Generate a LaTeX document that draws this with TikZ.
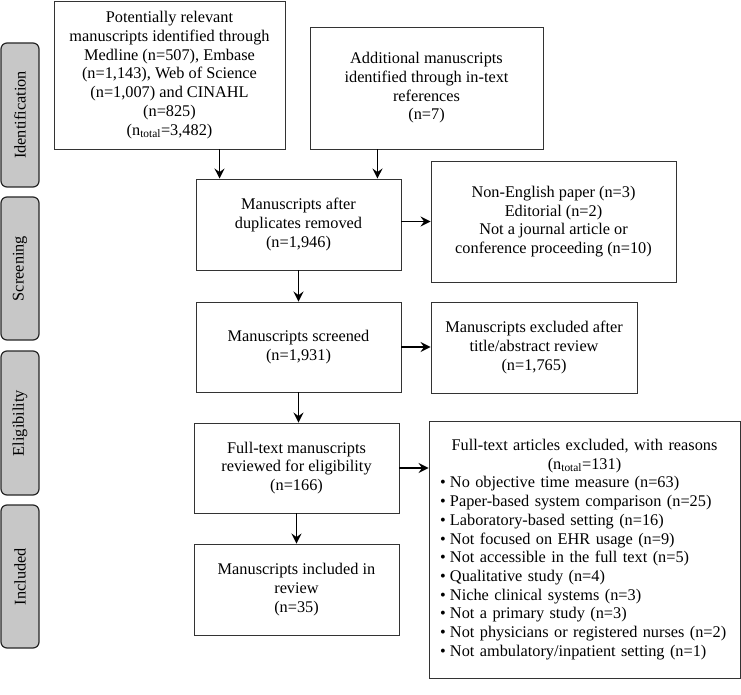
\documentclass[tikz,border=0pt]{standalone}
\usepackage{fontspec}
\setmainfont{Liberation Serif}
\usetikzlibrary{arrows.meta, positioning}

\begin{document}
\begin{tikzpicture}[x=1pt, y=-1pt,
  every node/.style={font=\fontsize{16.3}{18.7}\selectfont},
  box/.style={draw=black!80, line width=0.9pt, align=center, inner sep=2pt},
  phase/.style={draw=black!85, fill=black!22, line width=1.2pt, rounded corners=6pt,
    rotate=90, minimum width=144pt, minimum height=38pt},
  arr/.style={line width=1.6pt, -{Stealth[length=10pt, width=10pt, inset=3.5pt]}}]
\useasboundingbox (0,0) rectangle (741,695);
%phase labels
\node[phase] (idph) at (20,115) {Identification};
\node[phase, minimum width=143pt] (scrph) at (20,268.5) {Screening};
\node[phase] (eliph) at (20,423) {Eligibility};
\node[phase, minimum width=143pt] (incph) at (20,576.5) {Included};
%top row
\node[box, minimum width=231pt, minimum height=148pt] (search) at (169.5,75)
  {Potentially relevant\\manuscripts identified through\\Medline (n=507), Embase\\(n=1,143), Web of Science\\(n=1,007) and CINAHL\\(n=825)\\(n\textsubscript{total}=3,482)};
\node[box, minimum width=233pt, minimum height=122pt] (extra) at (426.5,88)
  {Additional manuscripts\\identified through in-text\\references\\(n=7)};
%middle column
\node[box, minimum width=205pt, minimum height=91pt] (dup) at (298.5,224.5)
  {Manuscripts after\\duplicates removed\\(n=1,946)};
\node[box, minimum width=205pt, minimum height=90pt] (screened) at (298.5,347)
  {Manuscripts screened\\(n=1,931)};
\node[box, minimum width=205pt, minimum height=90pt] (fulltext) at (296.5,468)
  {Full-text manuscripts\\reviewed for eligibility\\(n=166)};
\node[box, minimum width=205pt, minimum height=91pt] (included) at (296.5,589.5)
  {Manuscripts included in\\review\\(n=35)};
%right column
\node[box, minimum width=245pt, minimum height=121pt] (exnonen) at (553.5,221.5)
  {Non-English paper (n=3)\\Editorial (n=2)\\Not a journal article or\\conference proceeding (n=10)};
\node[box, minimum width=206pt, minimum height=91pt] (exabstract) at (534,347.5)
  {Manuscripts excluded after\\title/abstract review\\(n=1,765)};
\node[box, align=left, inner xsep=11pt, text width=289pt, minimum height=257pt] (exfull) at (584.5,549.5)
  {{\centering Full-text articles excluded, with reasons\\(n\textsubscript{total}=131)\par}
  \makebox[10pt][l]{\textbullet}No objective time measure (n=63)\\
  \makebox[10pt][l]{\textbullet}Paper-based system comparison (n=25)\\
  \makebox[10pt][l]{\textbullet}Laboratory-based setting (n=16)\\
  \makebox[10pt][l]{\textbullet}Not focused on EHR usage (n=9)\\
  \makebox[10pt][l]{\textbullet}Not accessible in the full text (n=5)\\
  \makebox[10pt][l]{\textbullet}Qualitative study (n=4)\\
  \makebox[10pt][l]{\textbullet}Niche clinical systems (n=3)\\
  \makebox[10pt][l]{\textbullet}Not a primary study (n=3)\\
  \makebox[10pt][l]{\textbullet}Not physicians or registered nurses (n=2)\\
  \makebox[10pt][l]{\textbullet}Not ambulatory/inpatient setting (n=1)};
%arrows
\coordinate (in1) at ([xshift=24pt]dup.north west);
\coordinate (in2) at ([xshift=-24pt]dup.north east);
\draw[arr] (search.south -| in1) -- (in1);
\draw[arr] (extra.south -| in2) -- (in2);
\draw[arr] (exnonen.west -| dup.east) -- (exnonen.west);
\draw[arr] (dup.south) -- (screened.north);
\draw[arr] (screened.east) -- (screened.east -| exabstract.west);
\draw[arr] (screened.south) -- (screened.south |- fulltext.north);
\draw[arr] (fulltext.east) -- (fulltext.east -| exfull.west);
\draw[arr] (fulltext.south) -- (included.north);
\end{tikzpicture}
\end{document}
